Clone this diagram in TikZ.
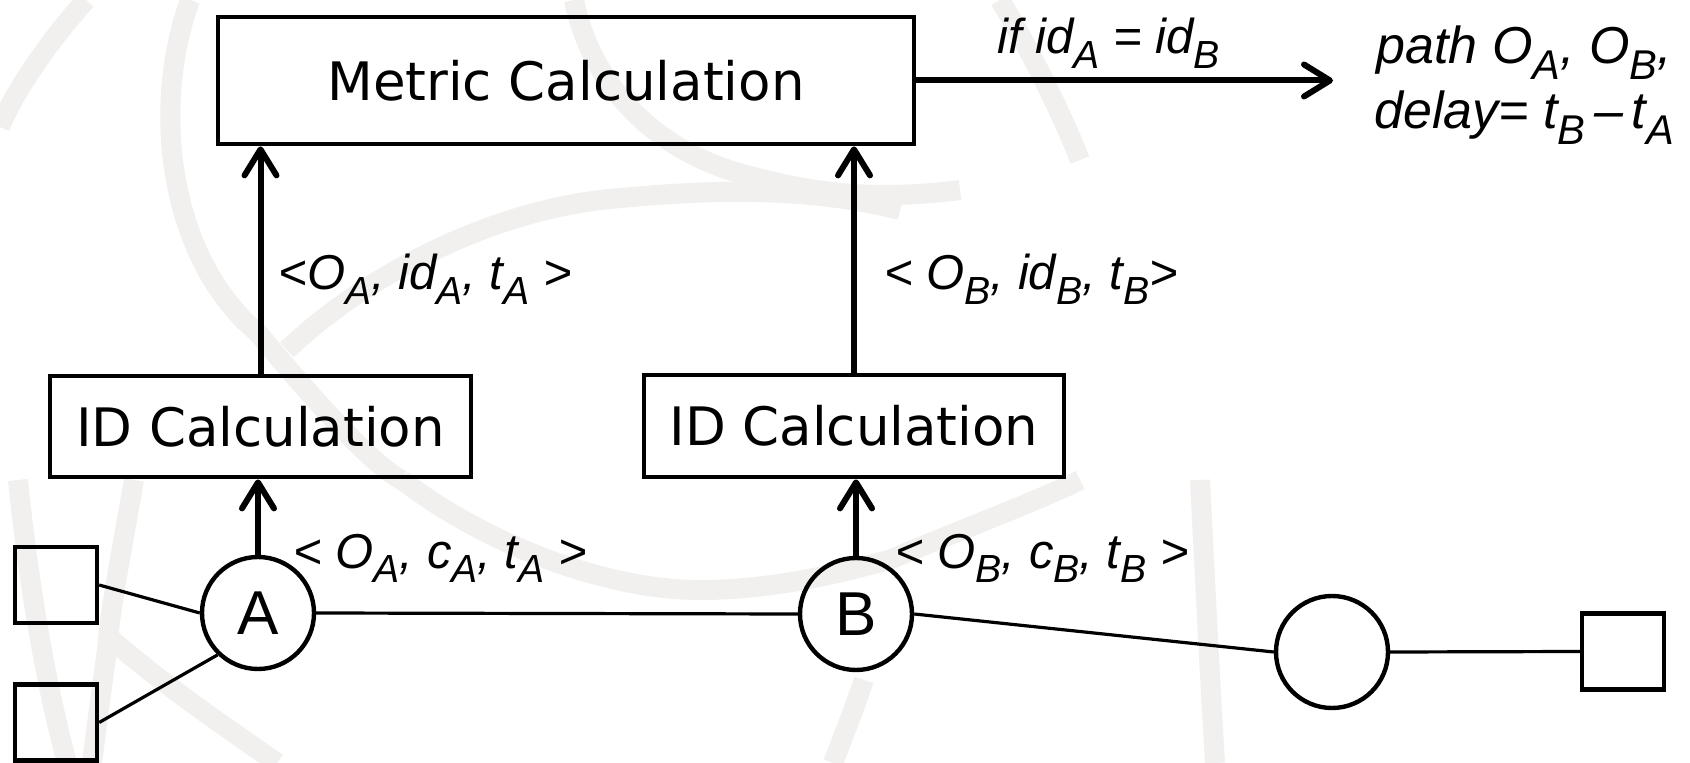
\documentclass[tikz,border=0pt]{standalone}
\usepackage{fontspec}
\usepackage{graphicx}
\setmainfont{DejaVu Sans}
\newfontfamily\labfont{Liberation Sans}
\usetikzlibrary{arrows.meta}
\definecolor{wm}{RGB}{241,240,238}
\newcommand\sbx[1]{\raisebox{-0.3em}{\scalebox{0.8}{#1}}}
\tikzset{
  box/.style={draw, line width=2.4pt, minimum width=#1, inner sep=0pt, font=\fontsize{26.5pt}{30pt}\selectfont},
  node/.style={draw, circle, line width=2.2pt, minimum size=56pt, inner sep=0pt, font=\labfont\fontsize{31pt}{36pt}\selectfont},
  term/.style={draw, line width=2.2pt, minimum width=41pt, minimum height=38pt, inner sep=0pt},
  link/.style={line width=1.6pt},
  flow/.style={line width=3pt, line cap=round, -{Straight Barb[length=13pt,width=16pt,line cap=round,line join=round]}},
  lab/.style={inner sep=0pt, font=\labfont\itshape\fontsize{24.5pt}{28pt}\selectfont},
  biglab/.style={inner sep=0pt, font=\labfont\itshape\fontsize{26pt}{30pt}\selectfont},
  wmline/.style={wm, line width=10pt}
}
\begin{document}
\begin{tikzpicture}[x=0.5pt, y=-0.5pt]
\useasboundingbox (0,0) rectangle (1690,763);
\fill[white] (0,0) rectangle (1690,763);
% faint background swirl
\draw[wmline] (86,0) .. controls (50,40) and (15,90) .. (0,127);
\draw[wmline] (190,0) .. controls (150,110) and (170,260) .. (258,333) .. controls (330,420) and (380,470) .. (402,480);
\draw[wmline] (574,0) .. controls (590,80) and (650,150) .. (746,175) .. controls (820,195) and (880,200) .. (960,190);
\draw[wmline] (287,350) .. controls (360,280) and (480,215) .. (600,200) .. controls (700,190) and (800,185) .. (900,210);
\draw[wmline] (402,480) .. controls (480,540) and (600,590) .. (700,590) .. controls (780,590) and (850,570) .. (889,560) .. controls (960,530) and (1040,500) .. (1080,480);
\draw[wmline] (18,480) .. controls (30,600) and (50,700) .. (67,763);
\draw[wmline] (134,480) .. controls (120,560) and (110,610) .. (107,650) .. controls (100,700) and (95,740) .. (92,763);
\draw[wmline] (112,640) .. controls (170,690) and (230,730) .. (277,763);
\draw[wmline] (1200,480) .. controls (1205,580) and (1210,680) .. (1215,763);
\draw[wmline] (864,680) .. controls (850,720) and (840,745) .. (833,763);
\draw[wmline] (1000,0) .. controls (1030,50) and (1060,110) .. (1080,160);
% main boxes
\node[box=348pt, minimum height=63.5pt] (metric) at (566,80.5) {Metric Calculation};
\node[box=210.5pt, minimum height=50.5pt] (idA) at (260.5,426.5) {ID Calculation};
\node[box=210pt, minimum height=51pt] (idB) at (854,426) {ID Calculation};
% network nodes
\node[node] (A) at (258,613) {A};
\node[node] (B) at (856,614) {B};
\node[node] (C) at (1332,652) {};
\node[term] (s1) at (56,585) {};
\node[term] (s2) at (56,722.5) {};
\node[term] (s3) at (1623,651.5) {};
\coordinate (out) at (1333,80.5);
% links
\draw[link] (s1.east) -- (A.180);
\draw[link] (s2.east) -- (A.226);
\draw[link] (A.east) -- (B.west);
\draw[link] (B.east) -- (C.west);
\draw[link] (C.east) -- (s3.west);
% flows
\draw[flow] (A.north) -- (A.north |- idA.south);
\draw[flow] (B.north) -- (B.north |- idB.south);
\draw[flow] (idA.north) -- (idA.north |- metric.south);
\draw[flow] (idB.north) -- (idB.north |- metric.south);
\draw[flow] (metric.east) -- (out);
% labels
\node[lab, anchor=base west] (lcA) at (293,568) {< O\sbx{A}, c\sbx{A}, t\sbx{A} >};
\node[lab, anchor=base west] (lcB) at (895,568) {< O\sbx{B}, c\sbx{B}, t\sbx{B} >};
\node[lab, anchor=base west] (liA) at (278,290) {<O\sbx{A}, id\sbx{A}, t\sbx{A} >};
\node[lab, anchor=base west] (liB) at (884,290) {< O\sbx{B}, id\sbx{B}, t\sbx{B}>};
\node[lab, anchor=base west] (lif) at (997,54) {if id\sbx{A} = id\sbx{B}};
\node[biglab, anchor=base west] (lpath) at (1376,64) {path O\sbx{A}, O\sbx{B},};
\node[biglab, anchor=base west] (ldelay) at (1374,129) {delay= t\sbx{B}\,–\,t\sbx{A}};
\end{tikzpicture}
\end{document}
